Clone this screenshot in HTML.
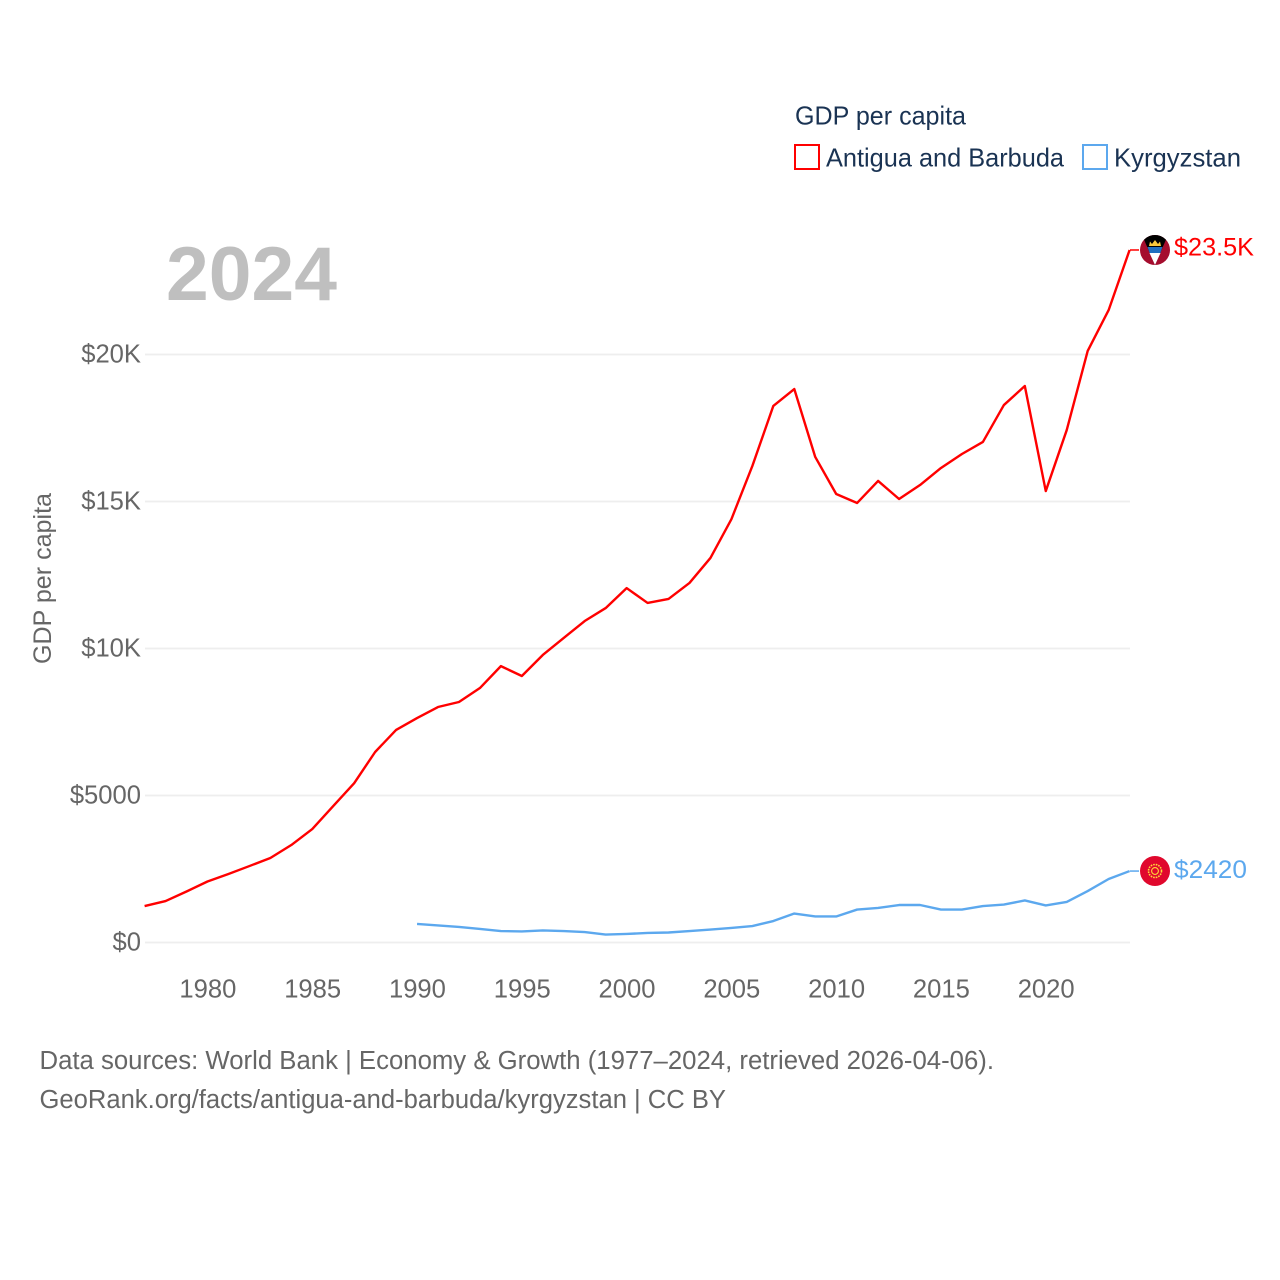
<!DOCTYPE html>
<html lang="en">
<head>
<meta charset="utf-8">
<title>GDP per capita: Antigua and Barbuda vs Kyrgyzstan</title>
<style>
html,body{margin:0;padding:0;background:#fff;width:1280px;height:1280px;overflow:hidden}
svg{display:block;font-family:"Liberation Sans",sans-serif}
.tick{fill:#666;font-size:25.6px}
.legend{fill:#1a3353;font-size:26px}
.foot{fill:#666;font-size:25.5px}
</style>
</head>
<body>
<svg id="chart" width="1280" height="1280" viewBox="0 0 1280 1280" xmlns="http://www.w3.org/2000/svg">
  <defs>
    <clipPath id="clip-ag"><circle cx="1155" cy="250" r="15"/></clipPath>
    <clipPath id="clip-kg"><circle cx="1155" cy="871" r="15"/></clipPath>
  </defs>
  <g id="grid"></g>
  <g id="yticks"></g>
  <g id="xticks"></g>
  <text x="166" y="300" font-size="76" font-weight="700" fill="#bfbfbf" textLength="171" lengthAdjust="spacingAndGlyphs">2024</text>
  <text transform="translate(51,664) rotate(-90)" font-size="25" fill="#666" textLength="171" lengthAdjust="spacingAndGlyphs">GDP per capita</text>
  <g id="series"></g>

  <g clip-path="url(#clip-ag)">
    <rect x="1140" y="235" width="30" height="30" fill="#a50d2e"/>
    <polygon points="1142,235 1168,235 1155,265" fill="#000"/>
    <polygon points="1147.5,247 1162.5,247 1160,254 1150,254" fill="#1f6fc0"/>
    <polygon points="1149.5,253 1160.5,253 1155,265" fill="#fff"/>
    <polygon points="1149,246 1150,241.5 1152,244 1155,240 1158,244 1160,241.5 1161,246" fill="#f8c83c"/>
  </g>
  <g clip-path="url(#clip-kg)">
    <rect x="1140" y="856" width="30" height="30" fill="#e0082d"/>
    <circle cx="1155" cy="871" r="6.5" fill="none" stroke="#ffd83a" stroke-width="1.6" stroke-dasharray="1.6 1"/>
    <circle cx="1155" cy="871" r="3.4" fill="none" stroke="#ffd83a" stroke-width="1.1"/>
  </g>

  <text x="1174" y="255.5" font-size="25" fill="#ff0000" textLength="80" lengthAdjust="spacingAndGlyphs">$23.5K</text>
  <text x="1174" y="878" font-size="25" fill="#5ca8ee" textLength="73" lengthAdjust="spacingAndGlyphs">$2420</text>

  <g>
    <text class="legend" x="795" y="124.5" textLength="171" lengthAdjust="spacingAndGlyphs">GDP per capita</text>
    <rect x="795" y="145" width="24" height="24" fill="none" stroke="#ff0000" stroke-width="2"/>
    <text class="legend" x="826" y="166.5" textLength="238" lengthAdjust="spacingAndGlyphs">Antigua and Barbuda</text>
    <rect x="1083" y="145" width="24" height="24" fill="none" stroke="#5ca8ee" stroke-width="2"/>
    <text class="legend" x="1114" y="166.5" textLength="127" lengthAdjust="spacingAndGlyphs">Kyrgyzstan</text>
  </g>

  <text class="foot" x="39.5" y="1069" textLength="954.5" lengthAdjust="spacingAndGlyphs">Data sources: World Bank | Economy &amp; Growth (1977–2024, retrieved 2026-04-06).</text>
  <text class="foot" x="39.5" y="1108" textLength="686.5" lengthAdjust="spacingAndGlyphs">GeoRank.org/facts/antigua-and-barbuda/kyrgyzstan | CC BY</text>
</svg>
<script>
const antiguaStartYear = 1977;
const antiguaValues = [1240,1410,1735,2075,2330,2600,2875,3315,3860,4640,5420,6480,7230,7635,8010,8180,8655,9400,9065,9780,10360,10935,11375,12055,11550,11685,12230,13080,14400,16210,18250,18825,16515,15255,14950,15700,15085,15560,16140,16615,17025,18280,18930,15355,17430,20120,21510,23555];
const kyrgyzstanStartYear = 1990;
const kyrgyzstanValues = [630,580,530,460,390,375,410,390,355,270,290,325,340,390,440,495,560,730,985,885,885,1120,1175,1275,1275,1120,1120,1240,1290,1430,1260,1380,1750,2160,2430];
const yTickValues = [0,5000,10000,15000,20000];
const yTickLabels = ["$0","$5000","$10K","$15K","$20K"];
const xTickYears = [1980,1985,1990,1995,2000,2005,2010,2015,2020];

const NS = "http://www.w3.org/2000/svg";
function xScale(year){ return 144.6 + (year - 1977) * (1129.6 - 144.6) / (2024 - 1977); }
function yScale(value){ return 942.5 - value * (942.5 - 354.5) / 20000; }
function make(tag, attrs, parent){
  const el = document.createElementNS(NS, tag);
  for (const k in attrs) el.setAttribute(k, attrs[k]);
  parent.appendChild(el);
  return el;
}
const gridGroup = document.getElementById("grid");
const yGroup = document.getElementById("yticks");
const xGroup = document.getElementById("xticks");
const seriesGroup = document.getElementById("series");

yTickValues.forEach(function(v, i){
  const line = make("line", {x1:145, x2:1130, y1:yScale(v), y2:yScale(v), stroke:"#eeeeee", "stroke-width":1.7}, gridGroup);
  
  
  const t = make("text", {x:141, y:yScale(v)+8, "text-anchor":"end", class:"tick"}, yGroup);
  
  
  t.textContent = yTickLabels[i];
});
xTickYears.forEach(function(y){
  const t = make("text", {x:xScale(y)+0.4, y:997.5, "text-anchor":"middle", class:"tick"}, xGroup);
  
  
  t.textContent = String(y);
});
function pathFor(start, values){
  return values.map(function(v, i){
    return (i ? "L" : "M") + xScale(start + i).toFixed(2) + " " + yScale(v).toFixed(2);
  }).join(" ");
}
const antiguaLine = make("path", {d:pathFor(antiguaStartYear, antiguaValues), fill:"none", stroke:"#ff0000", "stroke-width":2.4, "stroke-linejoin":"round"}, seriesGroup);


const kyrgyzLine = make("path", {d:pathFor(kyrgyzstanStartYear, kyrgyzstanValues), fill:"none", stroke:"#5ca8ee", "stroke-width":2.4, "stroke-linejoin":"round"}, seriesGroup);


const antiguaLast = antiguaValues[antiguaValues.length - 1];
const kyrgyzLast = kyrgyzstanValues[kyrgyzstanValues.length - 1];
const antiguaConn = make("line", {x1:1130, x2:1139, y1:yScale(antiguaLast), y2:yScale(antiguaLast), stroke:"#ff0000", "stroke-width":1.5}, seriesGroup);


const kyrgyzConn = make("line", {x1:1130, x2:1139, y1:yScale(kyrgyzLast), y2:yScale(kyrgyzLast), stroke:"#5ca8ee", "stroke-width":1.5}, seriesGroup);


</script>
</body>
</html>
